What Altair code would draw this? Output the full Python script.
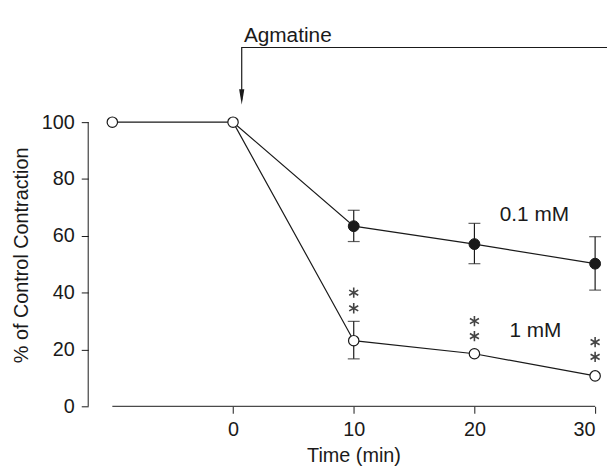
import altair as alt
import pandas as pd

# ---- data ----
time_low = [0, 10, 20, 30]                 # 0.1 mM series
mean_low = [100, 63.4, 57.1, 50.2]
err_time_low = [10, 20, 30]
err_lo_low = [58.0, 50.2, 40.9]
err_hi_low = [69.0, 64.4, 59.7]

time_high = [-10, 0, 10, 20, 30]           # 1 mM series
mean_high = [100, 100, 23.1, 18.5, 10.7]
err_time_high = [10]
err_lo_high = [16.7]
err_hi_high = [29.9]

star_time = [10, 10, 20, 20, 30, 30]
star_y = [40.0, 34.5, 30.0, 24.7, 22.6, 17.4]

label_text = ["0.1 mM", "1 mM"]
label_x = [22.1, 22.9]
label_y = [65.2, 24.3]

bracket_x = [0.72, 0.72, 31.0]
bracket_y = [108.0, 126.3, 126.3]
arrow_x = [0.72]
arrow_y = [108.9]
agm_text = ["Agmatine"]
agm_x = [0.9]
agm_y = [128.2]

x_ticks = [0, 10, 20, 30]
y_ticks = [0, 10, 20, 30, 40, 50, 60, 70, 80, 90, 100]

FONT = "Liberation Sans"
INK = "#1a1a1a"

lines_df = pd.DataFrame(
    {"t": time_low + time_high,
     "v": mean_low + mean_high,
     "s": ["0.1 mM"] * len(time_low) + ["1 mM"] * len(time_high)}
)
err_df = pd.DataFrame(
    {"t": err_time_low + err_time_high,
     "lo": err_lo_low + err_lo_high,
     "hi": err_hi_low + err_hi_high}
)
open_df = pd.DataFrame({"t": time_high, "v": mean_high})
filled_df = pd.DataFrame({"t": time_low[1:], "v": mean_low[1:]})
star_df = pd.DataFrame({"t": star_time, "v": star_y})
label_df = pd.DataFrame({"t": label_x, "v": label_y, "txt": label_text})
bracket_df = pd.DataFrame({"t": bracket_x, "v": bracket_y, "o": [0, 1, 2]})
arrow_df = pd.DataFrame({"t": arrow_x, "v": arrow_y})
agm_df = pd.DataFrame({"t": agm_x, "v": agm_y, "txt": agm_text})
yaxis_df = pd.DataFrame({"t": [-12], "v": [0], "v2": [100]})
xaxis_df = pd.DataFrame({"t": [-10], "t2": [30], "v": [0]})

xs = alt.Scale(domain=[-12, 30], nice=False, zero=False)
ys = alt.Scale(domain=[0, 139.4], nice=False, zero=False)

x_axis = alt.Axis(
    values=x_ticks, domain=False, grid=False, tickSize=7, tickColor=INK,
    tickWidth=1, labelFontSize=20, labelFont=FONT, labelColor=INK,
    labelPadding=6, title="Time (min)", titleFont=FONT, titleFontSize=20,
    titleFontWeight="normal", titleColor=INK, titleX=268, titleY=56,
    titleBaseline="alphabetic", titleAlign="center",
)
y_axis = alt.Axis(
    values=y_ticks, domain=False, grid=False, tickSize=7, tickColor=INK,
    tickWidth=1, labelFontSize=20, labelFont=FONT, labelColor=INK,
    labelPadding=7, labelExpr="datum.value % 20 == 0 ? datum.label : ''",
    title="% of Control Contraction", titleFont=FONT, titleFontSize=20,
    titleFontWeight="normal", titleColor=INK, titleX=-61.5, titleY=247,
    titleBaseline="alphabetic", titleAlign="center", titleAngle=270,
)

X = alt.X("t:Q", scale=xs, axis=x_axis)
Y = alt.Y("v:Q", scale=ys, axis=y_axis)
Xn = alt.X("t:Q", scale=xs)
Yn = alt.Y("v:Q", scale=ys)

base_axes = alt.Chart(yaxis_df).mark_rule(color=INK, strokeWidth=1).encode(
    x=X, y=Y, y2="v2:Q"
)
x_line = alt.Chart(xaxis_df).mark_rule(color=INK, strokeWidth=1).encode(
    x=Xn, x2="t2:Q", y=Yn
)

lines = alt.Chart(lines_df).mark_line(color=INK, strokeWidth=1.2).encode(
    x=Xn, y=Yn, detail="s:N"
)
err_v = alt.Chart(err_df).mark_rule(color=INK, strokeWidth=1.2).encode(
    x=Xn, y=alt.Y("lo:Q", scale=ys), y2="hi:Q"
)
cap_lo = alt.Chart(err_df).mark_tick(
    color=INK, orient="horizontal", size=12, thickness=1.2
).encode(x=Xn, y=alt.Y("lo:Q", scale=ys))
cap_hi = alt.Chart(err_df).mark_tick(
    color=INK, orient="horizontal", size=12, thickness=1.2
).encode(x=Xn, y=alt.Y("hi:Q", scale=ys))

open_pts = alt.Chart(open_df).mark_point(
    shape="circle", size=110, filled=True, fill="white", stroke=INK,
    strokeWidth=1.2, opacity=1
).encode(x=Xn, y=Yn)
filled_pts = alt.Chart(filled_df).mark_point(
    shape="circle", size=120, filled=True, fill=INK, stroke=INK,
    strokeWidth=1, opacity=1
).encode(x=Xn, y=Yn)

stars = alt.Chart(star_df).mark_point(
    shape="M0,-1L0,1M-0.87,-0.5L0.87,0.5M-0.87,0.5L0.87,-0.5",
    size=110, filled=False, stroke="#444444", strokeWidth=1.6, opacity=1
).encode(x=Xn, y=Yn)

labels = alt.Chart(label_df).mark_text(
    font=FONT, fontSize=21, color=INK, align="left", baseline="alphabetic"
).encode(x=Xn, y=Yn, text="txt:N")

bracket = alt.Chart(bracket_df).mark_line(color=INK, strokeWidth=1.2).encode(
    x=Xn, y=Yn, order="o:Q"
)
arrow = alt.Chart(arrow_df).mark_point(
    shape="M-0.34,-1L0.34,-1L0,1Z", size=240, filled=True, fill=INK,
    strokeWidth=0, opacity=1
).encode(x=Xn, y=Yn)
agm = alt.Chart(agm_df).mark_text(
    font=FONT, fontSize=21, color=INK, align="left", baseline="alphabetic"
).encode(x=Xn, y=Yn, text="txt:N")

chart = alt.layer(
    base_axes, x_line, lines, err_v, cap_lo, cap_hi, open_pts, filled_pts,
    stars, labels, bracket, arrow, agm
).properties(
    width=512, height=400,
    autosize=alt.AutoSizeParams(type="none"),
    padding={"left": 81, "top": 0, "right": 12, "bottom": 59},
    background="white",
).configure_view(strokeWidth=0, stroke="transparent")

chart.save("out.html", embed_options={"renderer": "svg", "actions": False})
